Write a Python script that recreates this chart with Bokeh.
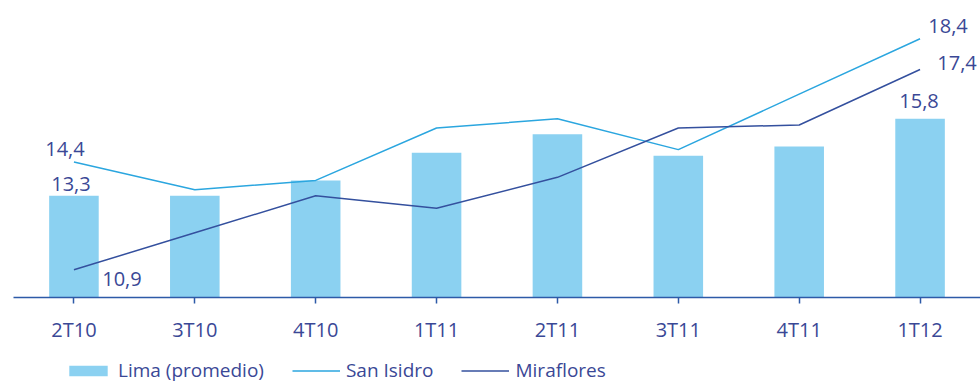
from bokeh.plotting import figure
from bokeh.models import FactorRange, Range1d, Legend, LegendItem
from bokeh.layouts import column
from bokeh.core.properties import value
from bokeh.embed import file_html
from bokeh.resources import INLINE

quarters = ["2T10", "3T10", "4T10", "1T11", "2T11", "3T11", "4T11", "1T12"]
lima = [13.3, 13.3, 13.8, 14.7, 15.3, 14.6, 14.9, 15.8]
san_isidro = [14.4, 13.5, 13.8, 15.5, 15.8, 14.8, 16.6, 18.4]
miraflores = [10.9, 12.1, 13.3, 12.9, 13.9, 15.5, 15.6, 17.4]
series_names = ["Lima (promedio)", "San Isidro", "Miraflores"]

BAR = "#8bd1f1"
LIGHT = "#2ba6df"
DARK = "#34509e"
AXIS = "#2d5aa8"
TXT = "#3a4896"
FONT = "Open Sans"

def fmt(v):
    return f"{v:.1f}".replace(".", ",")

p = figure(width=980, height=345, x_range=FactorRange(*quarters, range_padding=0),
           y_range=Range1d(10, 19.64), output_backend="svg", toolbar_location=None,
           min_border_left=13, min_border_right=0, min_border_top=0, min_border_bottom=44,
           outline_line_color=None, background_fill_color="white", border_fill_color="white")
p.grid.visible = False
p.yaxis.visible = False

bars = p.vbar(x=quarters, top=lima, bottom=10, width=0.41, fill_color=BAR, line_color=None)
l1 = p.line(x=quarters, y=san_isidro, line_color=LIGHT, line_width=1.5)
l2 = p.line(x=quarters, y=miraflores, line_color=DARK, line_width=1.5)

def lab(xv, yv, xo, yo):
    p.text(x=[xv], y=[yv], text=[fmt(yv)], x_offset=xo, y_offset=yo,
           text_align="center", text_baseline="middle",
           text_font=value(FONT), text_font_size="20px", text_color=TXT)

lab(quarters[0], lima[0], -3, -12)
lab(quarters[-1], lima[-1], -1, -18)
lab(quarters[0], san_isidro[0], -9, -13)
lab(quarters[-1], san_isidro[-1], 28, -13)
lab(quarters[0], miraflores[0], 48, 9)
lab(quarters[-1], miraflores[-1], 37, -7)

ax = p.xaxis[0]
ax.axis_line_color = AXIS
ax.axis_line_width = 1.5
ax.major_tick_line_color = AXIS
ax.major_tick_line_width = 1.5
ax.major_tick_in = 0
ax.major_tick_out = 6
ax.minor_tick_line_color = None
ax.major_label_standoff = 12
ax.major_label_text_font = FONT
ax.major_label_text_font_size = "20px"
ax.major_label_text_color = TXT

# legend strip
q = figure(width=980, height=38, x_range=Range1d(0, 1), y_range=Range1d(0, 1),
           output_backend="svg", toolbar_location=None,
           min_border_left=0, min_border_right=0, min_border_top=0, min_border_bottom=0,
           outline_line_color=None, background_fill_color="white", border_fill_color="white")
q.axis.visible = False
q.grid.visible = False
qb = q.vbar(x=[5], top=[6], bottom=[5], width=0.1, fill_color=BAR, line_color=None)
q1 = q.line(x=[5, 6], y=[5, 6], line_color=LIGHT, line_width=1.5)
q2 = q.line(x=[5, 6], y=[5, 6], line_color=DARK, line_width=1.5)

legend = Legend(items=[LegendItem(label=series_names[0], renderers=[qb]),
                       LegendItem(label=series_names[1], renderers=[q1]),
                       LegendItem(label=series_names[2], renderers=[q2])],
                orientation="horizontal", location=(51, 0),
                glyph_width=48, glyph_height=13, label_standoff=6, spacing=28,
                padding=0, margin=0, border_line_color=None,
                background_fill_alpha=0,
                label_text_font=FONT, label_text_font_size="19px", label_text_color=TXT)
q.add_layout(legend, "center")

open("out.html", "w").write(file_html(column(p, q, spacing=0), INLINE))
